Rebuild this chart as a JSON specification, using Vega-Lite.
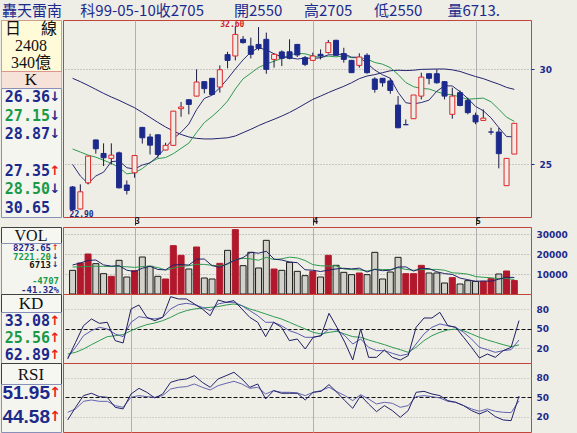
{
"$schema":"https://vega.github.io/schema/vega-lite/v6.json",
"background":"#eeeee7",
"padding":{"left":0,"top":3,"right":14,"bottom":0},
"title":{"text":"轟天雷南　 科99-05-10收2705　　開2550　\u00a0 高2705　\u00a0 低2550　\u00a0\u00a0 量6713.","anchor":"start","frame":"group","font":"Noto Sans CJK TC","fontSize":15,"fontWeight":"normal","color":"#1c2a8c","offset":1,"dx":1},
"config":{
 "view":{"fill":"#eeeee7","stroke":"#c0463c","strokeWidth":1},
 "axis":{"labelFont":"DejaVu Sans","labelFontSize":9,"labelFontWeight":"bold","labelColor":"#1c2a8c","domain":false,"ticks":false,"labelOverlap":false,"labelBound":false,"tickCount":10},
 "axisX":{"grid":true,"gridColor":"#b0b0b0","labels":false},
 "axisY":{"grid":true,"gridColor":"#a0a0a0","gridDash":[1,2],"labelPadding":5},
 "line":{"strokeWidth":1}
},
"datasets":{
 "d":[
{"i":0,"o":23.94,"h":23.98,"l":22.9,"c":22.93,"v":11830,"m5":25.0,"m10":25.75,"m30":29.49,"vm5":14500,"vm10":13500,"rsv":3.8,"k":6.4,"dd":11.5,"r6":15.1,"r12":26.9},
{"i":1,"o":22.95,"h":24.06,"l":22.93,"c":23.72,"v":15500,"m5":24.45,"m10":25.6,"m30":29.3,"vm5":15500,"vm10":13600,"rsv":29.5,"k":21.8,"dd":14.1,"r6":34.6,"r12":32.1},
{"i":2,"o":24.13,"h":25.4,"l":24.06,"c":25.4,"v":20000,"m5":24.1,"m10":25.45,"m30":29.09,"vm5":16800,"vm10":13800,"rsv":55.1,"k":39.7,"dd":19.2,"r6":52.6,"r12":43.8},
{"i":3,"o":26.2,"h":26.22,"l":25.52,"c":25.76,"v":15170,"m5":24.45,"m10":25.35,"m30":28.87,"vm5":17000,"vm10":13900,"rsv":65.4,"k":47.4,"dd":25.9,"r6":56.2,"r12":45.9},
{"i":4,"o":25.53,"h":26.03,"l":24.92,"c":25.32,"v":10170,"m5":24.63,"m10":25.2,"m30":28.65,"vm5":14534,"vm10":13800,"rsv":58.7,"k":52.6,"dd":32.1,"r6":51.0,"r12":43.8},
{"i":5,"o":25.29,"h":26.03,"l":25.0,"c":25.45,"v":8830,"m5":25.13,"m10":25.05,"m30":28.45,"vm5":13934,"vm10":13700,"rsv":60.3,"k":50.0,"dd":38.2,"r6":50.0,"r12":43.8},
{"i":6,"o":25.56,"h":25.62,"l":23.88,"c":23.9,"v":16830,"m5":25.17,"m10":24.85,"m30":28.27,"vm5":14200,"vm10":13800,"rsv":32.1,"k":42.3,"dd":39.7,"r6":34.6,"r12":37.2},
{"i":7,"o":24.03,"h":24.24,"l":23.6,"c":23.78,"v":8500,"m5":24.84,"m10":24.55,"m30":28.07,"vm5":11900,"vm10":13600,"rsv":28.5,"k":38.2,"dd":41.3,"r6":32.1,"r12":34.6},
{"i":8,"o":24.6,"h":25.45,"l":24.37,"c":25.43,"v":11670,"m5":24.78,"m10":24.6,"m30":27.87,"vm5":11200,"vm10":13300,"rsv":80.8,"k":60.3,"dd":47.4,"r6":55.1,"r12":50.0},
{"i":9,"o":26.84,"h":26.86,"l":26.02,"c":26.31,"v":18500,"m5":24.97,"m10":24.8,"m30":27.62,"vm5":12866,"vm10":13700,"rsv":86.9,"k":69.0,"dd":52.6,"r6":63.8,"r12":52.6},
{"i":10,"o":26.35,"h":26.51,"l":25.48,"c":25.94,"v":13830,"m5":25.07,"m10":25.1,"m30":27.36,"vm5":13866,"vm10":13900,"rsv":67.9,"k":66.9,"dd":56.7,"r6":57.7,"r12":51.0},
{"i":11,"o":26.46,"h":26.48,"l":25.32,"c":25.48,"v":8830,"m5":25.39,"m10":25.28,"m30":27.1,"vm5":12266,"vm10":13233,"rsv":62.8,"k":65.4,"dd":59.2,"r6":49.0,"r12":50.0},
{"i":12,"o":25.7,"h":26.06,"l":25.68,"c":25.93,"v":7500,"m5":25.82,"m10":25.33,"m30":26.86,"vm5":12066,"vm10":11983,"rsv":67.9,"k":67.9,"dd":62.8,"r6":55.1,"r12":52.6},
{"i":13,"o":25.93,"h":27.7,"l":25.9,"c":27.69,"v":24170,"m5":26.27,"m10":25.52,"m30":26.65,"vm5":14566,"vm10":12883,"rsv":99.7,"k":80.8,"dd":67.9,"r6":73.1,"r12":62.8},
{"i":14,"o":27.82,"h":28.18,"l":27.39,"c":27.91,"v":19330,"m5":26.59,"m10":25.78,"m30":26.48,"vm5":14732,"vm10":13799,"rsv":96.2,"k":87.4,"dd":74.1,"r6":76.7,"r12":65.4},
{"i":15,"o":28.3,"h":28.32,"l":27.52,"c":28.05,"v":12500,"m5":27.01,"m10":26.04,"m30":26.35,"vm5":14466,"vm10":14166,"rsv":96.2,"k":89.5,"dd":78.2,"r6":78.2,"r12":66.4},
{"i":16,"o":28.5,"h":30.0,"l":28.48,"c":29.28,"v":23500,"m5":27.77,"m10":26.58,"m30":26.28,"vm5":17400,"vm10":14833,"rsv":88.5,"k":87.4,"dd":80.8,"r6":83.3,"r12":70.5},
{"i":17,"o":29.3,"h":29.32,"l":28.65,"c":28.91,"v":8000,"m5":28.37,"m10":27.09,"m30":26.25,"vm5":17500,"vm10":14783,"rsv":80.8,"k":83.3,"dd":82.3,"r6":73.1,"r12":65.4},
{"i":18,"o":29.49,"h":29.5,"l":28.55,"c":28.59,"v":7500,"m5":28.55,"m10":27.41,"m30":26.25,"vm5":14166,"vm10":14366,"rsv":70.5,"k":78.2,"dd":83.3,"r6":65.4,"r12":61.3},
{"i":19,"o":29.0,"h":30.23,"l":28.69,"c":29.98,"v":15330,"m5":28.96,"m10":27.78,"m30":26.28,"vm5":13366,"vm10":14049,"rsv":94.6,"k":88.5,"dd":84.4,"r6":78.2,"r12":67.9},
{"i":20,"o":30.86,"h":31.03,"l":30.06,"c":30.52,"v":21830,"m5":29.46,"m10":28.23,"m30":26.31,"vm5":15232,"vm10":14849,"rsv":91.0,"k":91.0,"dd":86.9,"r6":83.3,"r12":71.5},
{"i":21,"o":30.78,"h":32.6,"l":30.52,"c":32.08,"v":32170,"m5":30.02,"m10":28.89,"m30":26.4,"vm5":16966,"vm10":17183,"rsv":93.6,"k":91.0,"dd":88.5,"r6":88.5,"r12":74.6},
{"i":22,"o":31.78,"h":31.98,"l":31.52,"c":31.58,"v":14170,"m5":30.55,"m10":29.46,"m30":26.57,"vm5":18200,"vm10":17850,"rsv":80.8,"k":85.9,"dd":85.9,"r6":78.2,"r12":70.5},
{"i":23,"o":31.37,"h":31.88,"l":30.64,"c":30.88,"v":20830,"m5":31.01,"m10":29.78,"m30":26.74,"vm5":20866,"vm10":17516,"rsv":67.9,"k":78.2,"dd":80.8,"r6":65.4,"r12":63.8},
{"i":24,"o":31.47,"h":32.54,"l":31.11,"c":31.23,"v":13000,"m5":31.26,"m10":30.11,"m30":26.93,"vm5":20400,"vm10":16883,"rsv":60.3,"k":70.5,"dd":77.2,"r6":70.5,"r12":65.4},
{"i":25,"o":31.78,"h":32.19,"l":29.75,"c":30.0,"v":26830,"m5":31.15,"m10":30.31,"m30":27.1,"vm5":21400,"vm10":18316,"rsv":38.2,"k":60.3,"dd":73.1,"r6":47.4,"r12":55.1},
{"i":26,"o":30.58,"h":30.92,"l":30.1,"c":30.88,"v":12500,"m5":30.91,"m10":30.47,"m30":27.26,"vm5":17466,"vm10":17216,"rsv":60.3,"k":60.3,"dd":69.0,"r6":60.3,"r12":60.3},
{"i":27,"o":31.02,"h":31.11,"l":30.19,"c":30.64,"v":11830,"m5":30.73,"m10":30.64,"m30":27.43,"vm5":16998,"vm10":17599,"rsv":52.6,"k":55.1,"dd":65.4,"r6":56.2,"r12":57.7},
{"i":28,"o":31.03,"h":31.78,"l":30.58,"c":30.64,"v":15830,"m5":30.68,"m10":30.84,"m30":27.62,"vm5":15998,"vm10":18432,"rsv":32.1,"k":47.4,"dd":60.3,"r6":56.2,"r12":57.7},
{"i":29,"o":31.47,"h":31.5,"l":30.72,"c":30.84,"v":11330,"m5":30.6,"m10":30.93,"m30":27.84,"vm5":15664,"vm10":18032,"rsv":34.6,"k":43.3,"dd":55.1,"r6":56.2,"r12":56.7},
{"i":30,"o":30.68,"h":30.78,"l":30.19,"c":30.29,"v":9170,"m5":30.66,"m10":30.91,"m30":28.08,"vm5":12132,"vm10":16766,"rsv":19.2,"k":37.2,"dd":50.0,"r6":45.9,"r12":52.6},
{"i":31,"o":30.52,"h":30.98,"l":30.48,"c":30.78,"v":11330,"m5":30.64,"m10":30.78,"m30":28.32,"vm5":11898,"vm10":14682,"rsv":37.2,"k":37.2,"dd":44.9,"r6":57.7,"r12":57.7},
{"i":32,"o":30.88,"h":31.17,"l":30.58,"c":30.78,"v":8500,"m5":30.67,"m10":30.7,"m30":28.5,"vm5":11232,"vm10":14115,"rsv":39.7,"k":39.7,"dd":42.3,"r6":59.2,"r12":60.3},
{"i":33,"o":30.98,"h":31.74,"l":30.92,"c":31.58,"v":19330,"m5":30.85,"m10":30.77,"m30":28.69,"vm5":11932,"vm10":13965,"rsv":74.1,"k":50.0,"dd":44.9,"r6":69.5,"r12":65.4},
{"i":34,"o":31.72,"h":31.75,"l":30.8,"c":30.82,"v":14330,"m5":30.85,"m10":30.73,"m30":28.87,"vm5":12532,"vm10":14098,"rsv":52.6,"k":48.5,"dd":46.4,"r6":57.7,"r12":58.7},
{"i":35,"o":30.92,"h":31.27,"l":30.39,"c":30.58,"v":10830,"m5":30.91,"m10":30.78,"m30":29.04,"vm5":12864,"vm10":12498,"rsv":29.5,"k":39.7,"dd":42.3,"r6":44.9,"r12":52.6},
{"i":36,"o":30.52,"h":30.55,"l":29.8,"c":29.81,"v":9670,"m5":30.71,"m10":30.68,"m30":29.24,"vm5":12532,"vm10":12215,"rsv":2.3,"k":26.9,"dd":38.2,"r6":33.1,"r12":44.9},
{"i":37,"o":30.23,"h":30.94,"l":30.1,"c":30.72,"v":10500,"m5":30.7,"m10":30.68,"m30":29.47,"vm5":12932,"vm10":12082,"rsv":50.0,"k":34.6,"dd":37.2,"r6":52.6,"r12":54.1},
{"i":38,"o":30.82,"h":30.94,"l":29.75,"c":29.81,"v":9670,"m5":30.35,"m10":30.6,"m30":29.62,"vm5":11000,"vm10":11466,"rsv":6.4,"k":21.8,"dd":33.1,"r6":39.7,"r12":47.4},
{"i":39,"o":29.45,"h":29.55,"l":28.69,"c":28.87,"v":20830,"m5":29.96,"m10":30.4,"m30":29.7,"vm5":12300,"vm10":12416,"rsv":6.4,"k":16.7,"dd":29.5,"r6":27.9,"r12":39.7},
{"i":40,"o":29.49,"h":29.5,"l":29.02,"c":29.24,"v":7500,"m5":29.69,"m10":30.3,"m30":29.81,"vm5":11634,"vm10":12249,"rsv":17.7,"k":16.7,"dd":25.9,"r6":37.2,"r12":42.3},
{"i":41,"o":29.34,"h":29.49,"l":28.63,"c":28.81,"v":11000,"m5":29.49,"m10":30.1,"m30":29.92,"vm5":11900,"vm10":12216,"rsv":6.4,"k":12.6,"dd":21.8,"r6":29.5,"r12":40.8},
{"i":42,"o":28.01,"h":28.5,"l":26.8,"c":26.82,"v":18330,"m5":28.71,"m10":29.71,"m30":29.95,"vm5":13466,"vm10":13199,"rsv":2.3,"k":9.0,"dd":18.2,"r6":19.2,"r12":34.6},
{"i":43,"o":26.98,"h":27.25,"l":26.98,"c":26.98,"v":10170,"m5":28.14,"m10":29.25,"m30":29.93,"vm5":13566,"vm10":12283,"rsv":9.0,"k":11.5,"dd":14.1,"r6":29.5,"r12":37.2},
{"i":44,"o":27.29,"h":28.56,"l":27.29,"c":28.56,"v":10170,"m5":28.08,"m10":29.02,"m30":29.95,"vm5":11434,"vm10":11867,"rsv":52.6,"k":26.9,"dd":21.8,"r6":57.7,"r12":51.0},
{"i":45,"o":28.5,"h":29.81,"l":28.32,"c":29.56,"v":14330,"m5":28.15,"m10":28.92,"m30":30.0,"vm5":12800,"vm10":12217,"rsv":66.9,"k":42.3,"dd":32.1,"r6":59.2,"r12":52.6},
{"i":46,"o":29.75,"h":29.76,"l":29.15,"c":29.49,"v":10500,"m5":28.28,"m10":28.89,"m30":30.01,"vm5":12700,"vm10":12300,"rsv":66.9,"k":52.6,"dd":39.7,"r6":55.1,"r12":51.0},
{"i":47,"o":29.75,"h":30.0,"l":29.19,"c":29.24,"v":10500,"m5":28.77,"m10":28.74,"m30":30.02,"vm5":11134,"vm10":12300,"rsv":75.6,"k":57.7,"dd":44.9,"r6":52.6,"r12":49.0},
{"i":48,"o":29.3,"h":29.32,"l":28.32,"c":28.5,"v":5500,"m5":29.07,"m10":28.61,"m30":30.02,"vm5":10200,"vm10":11883,"rsv":55.1,"k":55.1,"dd":48.5,"r6":44.9,"r12":43.8},
{"i":49,"o":27.52,"h":28.96,"l":27.29,"c":28.5,"v":8170,"m5":29.06,"m10":28.57,"m30":29.97,"vm5":9800,"vm10":10617,"rsv":52.6,"k":52.6,"dd":50.0,"r6":42.3,"r12":42.3},
{"i":50,"o":28.69,"h":28.81,"l":27.95,"c":27.99,"v":5000,"m5":28.74,"m10":28.45,"m30":29.88,"vm5":7934,"vm10":10367,"rsv":37.2,"k":44.9,"dd":47.4,"r6":37.2,"r12":37.2},
{"i":51,"o":28.27,"h":28.41,"l":27.52,"c":27.61,"v":6670,"m5":28.37,"m10":28.33,"m30":29.73,"vm5":7168,"vm10":9934,"rsv":21.8,"k":34.6,"dd":42.3,"r6":29.5,"r12":32.1},
{"i":52,"o":27.47,"h":27.61,"l":27.0,"c":27.12,"v":6330,"m5":27.94,"m10":28.36,"m30":29.59,"vm5":6334,"vm10":8734,"rsv":5.4,"k":21.8,"dd":37.2,"r6":24.4,"r12":28.5},
{"i":53,"o":27.2,"h":27.78,"l":27.2,"c":27.32,"v":6330,"m5":27.71,"m10":28.39,"m30":29.47,"vm5":6500,"vm10":8350,"rsv":11.5,"k":18.2,"dd":33.1,"r6":29.5,"r12":32.1},
{"i":54,"o":26.6,"h":26.82,"l":26.46,"c":26.6,"v":7670,"m5":27.33,"m10":28.19,"m30":29.31,"vm5":6400,"vm10":8100,"rsv":6.4,"k":14.1,"dd":29.5,"r6":20.3,"r12":28.5},
{"i":55,"o":26.6,"h":26.82,"l":24.81,"c":25.52,"v":10000,"m5":26.83,"m10":27.79,"m30":29.16,"vm5":7400,"vm10":7667,"rsv":16.7,"k":16.7,"dd":25.9,"r6":15.1,"r12":26.9},
{"i":56,"o":24.0,"h":25.3,"l":24.0,"c":25.29,"v":11500,"m5":26.37,"m10":27.37,"m30":28.98,"vm5":8366,"vm10":7767,"rsv":21.8,"k":18.2,"dd":22.8,"r6":14.1,"r12":26.4},
{"i":57,"o":25.5,"h":27.05,"l":25.5,"c":27.05,"v":6713,"m5":26.36,"m10":27.15,"m30":28.87,"vm5":8274,"vm10":7221,"rsv":62.89,"k":33.08,"dd":25.56,"r6":51.95,"r12":44.58}
 ],
 "ann":[{"i":21,"p":32.6,"t":"32.60","k":"hi"},{"i":0,"p":22.9,"t":"22.90","k":"lo"}],
 "hdr":[{"t":"日　 線"},{"t":"2408"},{"t":"340億"}],
 "pinfo":[{"n":"26.36","a":"↓","s":"a"},{"n":"27.15","a":"↓","s":"b"},{"n":"28.87","a":"↓","s":"a"},{"n":" ","a":"","s":"a"},{"n":"27.35","a":"↑","s":"a"},{"n":"28.50","a":"↓","s":"b"},{"n":"30.65","a":" ","s":"a"}],
 "vinfo":[{"n":"8273.65","a":"↑","s":"a"},{"n":"7221.20","a":"↓","s":"b"},{"n":"6713","a":"↓","s":"c"},{"n":" ","a":"","s":"a"},{"n":"-4707","a":"","s":"b"},{"n":"-41.32%","a":"","s":"a"}],
 "kinfo":[{"n":"33.08","a":"↑","s":"a"},{"n":"25.56","a":"↑","s":"b"},{"n":"62.89","a":"↑","s":"a"}],
 "rinfo":[{"n":"51.95","a":"↑","s":"a"},{"n":"44.58","a":"↑","s":"a"}]
},
"spacing":0,
"hconcat":[
 {"vconcat":[
  {"vconcat":[
   {"width":60,"height":51,"view":{"fill":"#fffbd8","stroke":"#caa08c"},"data":{"name":"hdr"},
    "mark":{"type":"text","font":"Liberation Serif, Noto Sans CJK TC","fontSize":16,"color":"#111111"},
    "encoding":{"y":{"field":"t","type":"ordinal","sort":null,"axis":null},"text":{"field":"t"}}},
   {"width":60,"height":17,"view":{"fill":"#f7e2da","stroke":"#d46a6a","strokeDash":[1,1]},"data":{"values":[{"t":"K"}]},
    "mark":{"type":"text","font":"Liberation Serif","fontSize":17,"color":"#111111"},
    "encoding":{"text":{"field":"t"}}},
   {"width":60,"height":129,"view":{"fill":"#f5f5ef","stroke":"#8890b8"},"data":{"name":"pinfo"},
    "encoding":{"y":{"field":"n","type":"ordinal","sort":null,"axis":null}},
    "layer":[
     {"mark":{"type":"text","font":"DejaVu Sans Mono","fontWeight":"bold","fontSize":15,"align":"right","dx":19},
      "encoding":{"text":{"field":"n"},"color":{"condition":{"test":"datum.s=='b'","value":"#1a9a46"},"value":"#1c2a8c"}}},
     {"mark":{"type":"text","font":"DejaVu Sans","fontWeight":"bold","fontSize":13,"dx":24},
      "encoding":{"text":{"field":"a"},"color":{"condition":{"test":"datum.a=='↑'","value":"#e8231f"},"value":"#1c2a8c"}}}
    ]}
  ],"spacing":0,"bounds":"flush"},
  {"vconcat":[
   {"width":60,"height":16,"view":{"fill":"#f7f7f2","stroke":"#404040"},"data":{"values":[{"t":"VOL"}]},
    "mark":{"type":"text","font":"Liberation Serif","fontSize":16,"color":"#111111","dy":1},
    "encoding":{"text":{"field":"t"}}},
   {"width":60,"height":51,"view":{"fill":"#f5f5ef","stroke":"#8890b8"},"data":{"name":"vinfo"},
    "encoding":{"y":{"field":"n","type":"ordinal","axis":null,"scale":{"domain":["8273.65","7221.20","6713"," ","-4707","-41.32%"]}}},
    "layer":[
     {"transform":[{"filter":"datum.a!=''"}],"mark":{"type":"text","font":"DejaVu Sans Mono","fontWeight":"bold","fontSize":9,"align":"right","dx":20,"dy":1},
      "encoding":{"text":{"field":"n"},"color":{"condition":[{"test":"datum.s=='b'","value":"#1a9a46"},{"test":"datum.s=='c'","value":"#111111"}],"value":"#1c2a8c"}}},
     {"transform":[{"filter":"datum.a!=''"}],"mark":{"type":"text","font":"DejaVu Sans","fontWeight":"bold","fontSize":8,"dx":24,"dy":1},
      "encoding":{"text":{"field":"a"},"color":{"condition":{"test":"datum.a=='↑'","value":"#e8231f"},"value":"#1c2a8c"}}},
     {"transform":[{"filter":"datum.a==''"}],"mark":{"type":"text","font":"DejaVu Sans Mono","fontWeight":"bold","fontSize":9,"align":"right","dx":28},
      "encoding":{"text":{"field":"n"},"color":{"condition":{"test":"datum.s=='b'","value":"#1a9a46"},"value":"#1c2a8c"}}}
    ]},
   {"width":60,"height":18,"view":{"fill":"#f7f7f2","stroke":"#404040"},"data":{"values":[{"t":"KD"}]},
    "mark":{"type":"text","font":"Liberation Serif","fontSize":17,"color":"#111111","dy":1},
    "encoding":{"text":{"field":"t"}}},
   {"width":60,"height":51,"view":{"fill":"#f5f5ef","stroke":"#8890b8"},"data":{"name":"kinfo"},
    "encoding":{"y":{"field":"n","type":"ordinal","sort":null,"axis":null}},
    "layer":[
     {"mark":{"type":"text","font":"DejaVu Sans Mono","fontWeight":"bold","fontSize":15,"align":"right","dx":19},
      "encoding":{"text":{"field":"n"},"color":{"condition":{"test":"datum.s=='b'","value":"#1a9a46"},"value":"#1c2a8c"}}},
     {"mark":{"type":"text","font":"DejaVu Sans","fontWeight":"bold","fontSize":13,"dx":24},
      "encoding":{"text":{"field":"a"},"color":{"value":"#e8231f"}}}
    ]},
   {"width":60,"height":21,"view":{"fill":"#f7f7f2","stroke":"#404040"},"data":{"values":[{"t":"RSI"}]},
    "mark":{"type":"text","font":"Liberation Serif","fontSize":17,"color":"#111111","dy":1},
    "encoding":{"text":{"field":"t"}}},
   {"width":60,"height":48,"view":{"fill":"#f5f5ef","stroke":"#8890b8"},"data":{"name":"rinfo"},
    "encoding":{"y":{"field":"n","type":"ordinal","sort":null,"axis":null}},
    "layer":[
     {"mark":{"type":"text","font":"Liberation Sans","fontWeight":"bold","fontSize":19,"align":"right","dx":19,"dy":-3},
      "encoding":{"text":{"field":"n"},"color":{"value":"#1c2a8c"}}},
     {"mark":{"type":"text","font":"DejaVu Sans","fontWeight":"bold","fontSize":14,"dx":24,"dy":-3},
      "encoding":{"text":{"field":"a"},"color":{"value":"#e8231f"}}}
    ]}
  ],"spacing":0,"bounds":"flush"}
 ],"spacing":8},
 {"vconcat":[
  {"width":468,"height":197,"data":{"name":"d"},
   "encoding":{"x":{"field":"i","type":"quantitative","scale":{"domain":[-0.59,58.51],"nice":false,"zero":false},
     "axis":{"values":[8,31,52],"title":null,"labels":true,"labelExpr":"datum.value==8?'3':datum.value==31?'4':'5'","labelAlign":"left","labelBaseline":"top","labelPadding":-8,"labelDx":2,"labelColor":"#111111","labelFont":"DejaVu Sans Mono","labelFontSize":8,"ticks":true,"tickSize":8,"tickColor":"#333333"}}},
   "layer":[
    {"mark":{"type":"line","color":"#24246e"},"encoding":{"y":{"field":"m30","type":"quantitative","scale":{"type":"log","domain":[22.6,32.98],"nice":false},"axis":{"orient":"right","values":[25,30],"title":null,"ticks":true,"tickSize":3,"tickColor":"#1c2a8c"}}}},
    {"mark":{"type":"line","color":"#2e9a50"},"encoding":{"y":{"field":"m10","type":"quantitative","scale":{"type":"log","domain":[22.6,32.98],"nice":false}}}},
    {"mark":{"type":"line","color":"#2d2d78"},"encoding":{"y":{"field":"m5","type":"quantitative","scale":{"type":"log","domain":[22.6,32.98],"nice":false}}}},
    {"mark":{"type":"rule","color":"#1a1a40"},"encoding":{"y":{"field":"l","type":"quantitative","scale":{"type":"log","domain":[22.6,32.98],"nice":false}},"y2":{"field":"h"}}},
    {"mark":{"type":"bar","size":5,"strokeWidth":1},"encoding":{"y":{"field":"o","type":"quantitative","scale":{"type":"log","domain":[22.6,32.98],"nice":false}},"y2":{"field":"c"},
      "fill":{"condition":{"test":"datum.c>datum.o","value":"#eeeee7"},"value":"#1c2a8c"},
      "stroke":{"condition":{"test":"datum.c>datum.o","value":"#e0262a"},"value":"#1c2a8c"}}},
    {"data":{"name":"ann"},"transform":[{"filter":"datum.k=='hi'"}],"mark":{"type":"text","font":"DejaVu Sans Mono","baseline":"bottom","fontSize":8,"fontWeight":"bold","color":"#d42020","dx":-3,"dy":3},
     "encoding":{"y":{"field":"p","type":"quantitative","scale":{"type":"log","domain":[22.6,32.98],"nice":false}},"text":{"field":"t"}}},
    {"data":{"name":"ann"},"transform":[{"filter":"datum.k=='lo'"}],"mark":{"type":"text","font":"DejaVu Sans Mono","baseline":"top","align":"left","fontSize":8,"fontWeight":"bold","color":"#1c2a8c","dx":-3,"dy":1},
     "encoding":{"y":{"field":"p","type":"quantitative","scale":{"type":"log","domain":[22.6,32.98],"nice":false}},"text":{"field":"t"}}}
   ]},
  {"vconcat":[
   {"width":468,"height":67,"data":{"name":"d"},
    "encoding":{"x":{"field":"i","type":"quantitative","scale":{"domain":[-0.59,58.51],"nice":false,"zero":false},"axis":{"values":[8,31,52],"title":null}}},
    "layer":[
     {"mark":{"type":"bar","size":6,"strokeWidth":1},"encoding":{"y":{"field":"v","type":"quantitative","scale":{"domain":[0,33500],"nice":false},"axis":{"orient":"right","values":[10000,20000,30000],"format":"d","title":null}},
       "fill":{"condition":{"test":"datum.c>=datum.o","value":"#b2182b"},"value":"#d2d2ca"},
       "stroke":{"condition":{"test":"datum.c>=datum.o","value":"#b2182b"},"value":"#1a1a1a"}}},
     {"mark":{"type":"line","color":"#2e9a50"},"encoding":{"y":{"field":"vm10","type":"quantitative","scale":{"domain":[0,33500],"nice":false}}}},
     {"mark":{"type":"line","color":"#22226a"},"encoding":{"y":{"field":"vm5","type":"quantitative","scale":{"domain":[0,33500],"nice":false}}}}
    ]},
   {"width":468,"height":69,"data":{"name":"d"},
    "encoding":{"x":{"field":"i","type":"quantitative","scale":{"domain":[-0.59,58.51],"nice":false,"zero":false},"axis":{"values":[8,31,52],"title":null}}},
    "layer":[
     {"mark":{"type":"line","color":"#2e9a50"},"encoding":{"y":{"field":"dd","type":"quantitative","scale":{"domain":[-2.3,103.8],"nice":false,"zero":false},
       "axis":{"orient":"right","values":[20,50,80],"title":null,"gridColor":{"condition":{"test":"datum.value===50","value":"#111111"},"value":"#b0b0b0"},"gridDash":{"condition":{"test":"datum.value===50","value":[4,2]},"value":[1,2]}}}}},
     {"mark":{"type":"line","color":"#5a5ab0"},"encoding":{"y":{"field":"k","type":"quantitative","scale":{"domain":[-2.3,103.8],"nice":false,"zero":false}}}},
     {"mark":{"type":"line","color":"#1e1e60"},"encoding":{"y":{"field":"rsv","type":"quantitative","scale":{"domain":[-2.3,103.8],"nice":false,"zero":false}}}}
    ]},
   {"width":468,"height":69,"data":{"name":"d"},
    "encoding":{"x":{"field":"i","type":"quantitative","scale":{"domain":[-0.59,58.51],"nice":false,"zero":false},"axis":{"values":[8,31,52],"title":null}}},
    "layer":[
     {"mark":{"type":"line","color":"#6464b0"},"encoding":{"y":{"field":"r12","type":"quantitative","scale":{"domain":[-3.4,102.8],"nice":false,"zero":false},
       "axis":{"orient":"right","values":[20,50,80],"title":null,"gridColor":{"condition":{"test":"datum.value===50","value":"#111111"},"value":"#b0b0b0"},"gridDash":{"condition":{"test":"datum.value===50","value":[4,2]},"value":[1,2]}}}}},
     {"mark":{"type":"line","color":"#22226a"},"encoding":{"y":{"field":"r6","type":"quantitative","scale":{"domain":[-3.4,102.8],"nice":false,"zero":false}}}}
    ]}
  ],"spacing":0,"bounds":"flush"}
 ],"spacing":0}
]
}
